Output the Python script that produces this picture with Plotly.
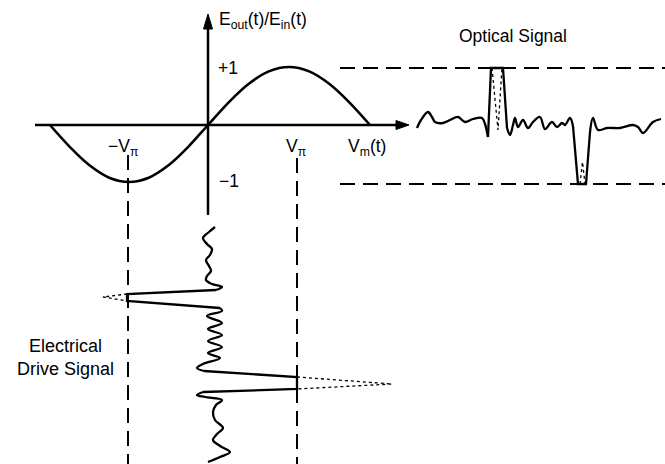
import plotly.graph_objects as go

# ---------------- data (diagram coordinates, pixels; y grows downward) ----------------
# Modulator transfer curve Eout/Ein vs Vm (sampled sine shape)
transfer_x = [50, 69.75, 89.5, 109.25, 129, 148.75, 168.5, 188.25, 208,
              228.25, 248.5, 268.75, 289, 309.25, 329.5, 349.75, 370]
transfer_y = [125, 146.8, 165.3, 177.7, 182, 177.7, 165.3, 146.8, 125,
              102.8, 84, 71.4, 67, 71.4, 84, 102.8, 125]

# Axes
h_axis_x = [35, 398]
h_axis_y = [125, 125]
h_arrow_x = [396, 409, 396, 396]
h_arrow_y = [120.5, 125, 129.5, 120.5]
v_axis_x = [208, 208]
v_axis_y = [215, 26]
v_arrow_x = [203.5, 208, 212.5, 203.5]
v_arrow_y = [29, 14, 29, 29]

# Electrical drive signal (time runs downward)
drive_top_x = [215, 209, 203, 207, 212, 210, 206, 209, 211, 207, 206, 212, 222, 216]
drive_top_y = [227, 232, 238, 244, 249, 255, 260, 266, 271, 276, 280, 284, 287, 290]
drive_p1_x = [216, 127, 127, 220]
drive_p1_y = [290, 294, 301, 308]
drive_mid_x = [220, 222, 207, 222, 208, 222, 208, 222, 208, 220, 203, 197, 204]
drive_mid_y = [308, 311, 316, 323, 329, 335, 341, 347, 353, 358, 364, 368, 371]
drive_p2_x = [204, 297, 297, 203]
drive_p2_y = [371, 377, 389, 392]
drive_bot_x = [203, 197, 205, 222, 216, 213, 215, 223, 217, 213, 220, 230, 220, 208]
drive_bot_y = [392, 395, 397, 400, 405, 412, 420, 428, 434, 440, 446, 452, 457, 462]
drive_dot1_x = [127, 103, 127]
drive_dot1_y = [294, 297, 301]
drive_dot2_x = [297, 392, 297]
drive_dot2_y = [377, 384, 389]

# Optical signal
opt_a_x = [417, 421, 428, 432, 435, 443, 450, 458, 465, 473, 482, 485, 488]
opt_a_y = [128, 120, 112, 117, 122, 123, 120, 117, 122, 119, 118, 124, 137]
opt_p1_x = [488, 491, 503, 507]
opt_p1_y = [137, 68, 68, 128]
opt_b_x = [507, 510, 513, 515, 518, 523, 528, 533, 540, 545, 552, 557, 562, 565, 570, 573]
opt_b_y = [128, 135, 125, 118, 127, 120, 128, 122, 117, 129, 122, 127, 123, 125, 118, 126]
opt_p2_x = [573, 578, 586, 590]
opt_p2_y = [126, 184, 184, 132]
opt_c_x = [590, 593, 598, 607, 620, 633, 638, 643, 653, 661]
opt_c_y = [132, 118, 130, 128, 128, 125, 127, 133, 122, 119]
opt_dot1_x = [492, 498, 502]
opt_dot1_y = [68, 130, 68]
opt_dot2_x = [580, 582.5, 585]
opt_dot2_y = [184, 162, 184]

# Reference dashed lines
dash_h_x = [340, 665]
dash_top_y = 68
dash_bot_y = 184
dash_v_left_x = 128
dash_v_right_x = 297
dash_v_left_y = [155, 464]
dash_v_right_y = [158, 464]

# Text labels
labels = [
    ("E<sub>out</sub>(t)/E<sub>in</sub>(t)", 217, 20, "left"),
    ("+1", 216, 68, "left"),
    ("\u22121", 217, 181, "left"),
    ("\u2212V<sub>\u03c0</sub>", 106, 147, "left"),
    ("V<sub>\u03c0</sub>", 284, 147, "left"),
    ("V<sub>m</sub>(t)", 346, 147, "left"),
    ("Optical Signal", 457, 36, "left"),
]
side_label = "Electrical<br>Drive Signal"

# ---------------- figure ----------------
fig = go.Figure()
BLACK = "#000000"


def line(x, y, width=2.2, dash="solid", shape="linear"):
    fig.add_trace(go.Scatter(x=x, y=y, mode="lines",
                             line=dict(color=BLACK, width=width, dash=dash, shape=shape, smoothing=1.0),
                             hoverinfo="skip"))


def tri(x, y):
    fig.add_trace(go.Scatter(x=x, y=y, mode="lines", fill="toself", fillcolor=BLACK,
                             line=dict(color=BLACK, width=1), hoverinfo="skip"))


# dashed guides
DASH = "15px,8px"
line(dash_h_x, [dash_top_y, dash_top_y], 2, DASH)
line(dash_h_x, [dash_bot_y, dash_bot_y], 2, DASH)
line([dash_v_left_x, dash_v_left_x], dash_v_left_y, 2, DASH)
line([dash_v_right_x, dash_v_right_x], dash_v_right_y, 2, DASH)

# axes
line(h_axis_x, h_axis_y, 2.5)
tri(h_arrow_x, h_arrow_y)
line(v_axis_x, v_axis_y, 2.5)
tri(v_arrow_x, v_arrow_y)

# transfer curve
line(transfer_x, transfer_y, 2.6, shape="spline")

# drive signal
line(drive_top_x, drive_top_y, 2.3, shape="spline")
line(drive_p1_x, drive_p1_y, 2.3)
line(drive_mid_x, drive_mid_y, 2.3, shape="spline")
line(drive_p2_x, drive_p2_y, 2.3)
line(drive_bot_x, drive_bot_y, 2.3, shape="spline")
line(drive_dot1_x, drive_dot1_y, 1.3, "dot")
line(drive_dot2_x, drive_dot2_y, 1.3, "dot")

# optical signal
line(opt_a_x, opt_a_y, 2.3, shape="spline")
line(opt_p1_x, opt_p1_y, 2.3)
line(opt_b_x, opt_b_y, 2.3, shape="spline")
line(opt_p2_x, opt_p2_y, 2.3)
line(opt_c_x, opt_c_y, 2.3, shape="spline")
line(opt_dot1_x, opt_dot1_y, 1.3, "dot")
line(opt_dot2_x, opt_dot2_y, 1.3, "dot")

FONT = dict(family="Liberation Sans, Arial, sans-serif", size=17.5, color=BLACK)
for text, x, y, anchor in labels:
    fig.add_annotation(x=x, y=y, xref="x", yref="y", text=text, showarrow=False,
                       xanchor=anchor, yanchor="middle", font=FONT)
fig.add_annotation(x=65, y=357, xref="x", yref="y", text=side_label, showarrow=False,
                   xanchor="center", yanchor="middle", align="center",
                   font=dict(family="Liberation Sans, Arial, sans-serif", size=18, color=BLACK))

fig.update_layout(
    width=665, height=464,
    margin=dict(l=0, r=0, t=0, b=0),
    paper_bgcolor="white", plot_bgcolor="white",
    showlegend=False,
    xaxis=dict(range=[0, 665], visible=False, fixedrange=True),
    yaxis=dict(range=[464, 0], visible=False, fixedrange=True),
)

fig.write_html("out.html")
